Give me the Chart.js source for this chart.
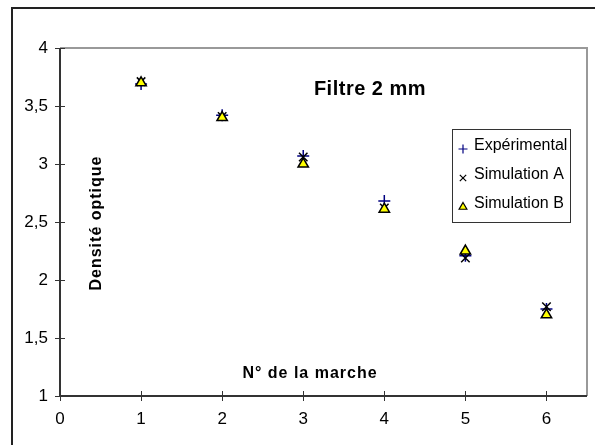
<!DOCTYPE html>
<html>
<head>
<meta charset="utf-8">
<script src="https://cdn.jsdelivr.net/npm/chart.js@4"></script>
<style>
  html, body { margin: 0; padding: 0; background: #fff; }
  #wrap { width: 595px; height: 445px; }
</style>
</head>
<body>
<div id="wrap"><canvas id="chart" width="595" height="445"></canvas></div>
<script>
const steps = [1, 2, 3, 4, 5, 6];
const experimental = [3.69, 3.42, 3.07, 2.68, 2.21, 1.75];
const simulationA = [3.71, 3.41, 3.06, 2.62, 2.19, 1.77];
const simulationB = [3.70, 3.40, 3.00, 2.61, 2.25, 1.70];
const xTicks = [0, 1, 2, 3, 4, 5, 6];
const yTicks = [1, 1.5, 2, 2.5, 3, 3.5, 4];
const seriesNames = ["Expérimental", "Simulation A", "Simulation B"];

const font = "Liberation Sans, Arial, sans-serif";

function toPoints(values) {
  return steps.map((s, i) => ({ x: s, y: values[i] }));
}

// frame, plot border, tick marks, titles and legend
const decor = {
  id: "decor",
  afterDraw(chart) {
    const ctx = chart.ctx;
    const area = chart.chartArea;
    const xs = chart.scales.x;
    const ys = chart.scales.y;
    ctx.save();

    // outer frame
    ctx.strokeStyle = "#222";
    ctx.lineWidth = 2;
    ctx.beginPath();
    ctx.moveTo(12, 460);
    ctx.lineTo(12, 8);
    ctx.lineTo(610, 8);
    ctx.stroke();

    // plot area top / right border
    ctx.strokeStyle = "#999";
    ctx.lineWidth = 2;
    ctx.beginPath();
    ctx.moveTo(area.left, area.top);
    ctx.lineTo(area.right, area.top);
    ctx.lineTo(area.right, area.bottom);
    ctx.stroke();

    // axes
    ctx.strokeStyle = "#333";
    ctx.beginPath();
    ctx.moveTo(area.left, area.top);
    ctx.lineTo(area.left, area.bottom);
    ctx.lineTo(area.right, area.bottom);
    ctx.stroke();

    // tick marks crossing the axes
    ctx.lineWidth = 1;
    xTicks.forEach(v => {
      const px = Math.round(xs.getPixelForValue(v)) + 0.5;
      ctx.beginPath();
      ctx.moveTo(px, area.bottom - 5);
      ctx.lineTo(px, area.bottom + 5);
      ctx.stroke();
    });
    yTicks.forEach(v => {
      const py = Math.round(ys.getPixelForValue(v)) + 0.5;
      ctx.beginPath();
      ctx.moveTo(area.left - 5, py);
      ctx.lineTo(area.left + 5, py);
      ctx.stroke();
    });

    // titles
    ctx.fillStyle = "#000";
    ctx.textAlign = "center";
    ctx.textBaseline = "middle";
    ctx.font = "bold 20px " + font;
    ctx.letterSpacing = "0.5px";
    ctx.fillText("Filtre 2 mm", 370, 89);
    ctx.font = "bold 16px " + font;
    ctx.letterSpacing = "1px";
    ctx.fillText("N° de la marche", 310, 374);
    ctx.save();
    ctx.translate(97, 223);
    ctx.rotate(-Math.PI / 2);
    ctx.fillText("Densité optique", 0, 0);
    ctx.restore();
    ctx.letterSpacing = "0px";

    // legend
    const box = { x: 452, y: 129, w: 118, h: 93 };
    ctx.fillStyle = "#fff";
    ctx.fillRect(box.x, box.y, box.w, box.h);
    ctx.strokeStyle = "#333";
    ctx.lineWidth = 1;
    ctx.strokeRect(box.x + 0.5, box.y + 0.5, box.w, box.h);
    ctx.font = "16px " + font;
    ctx.textAlign = "left";
    [0, 1, 2].forEach(i => {
      const ds = chart.data.datasets.find(d => d.label === seriesNames[i]);
      const cy = box.y + 17 + i * 29;
      ctx.fillStyle = ds.backgroundColor;
      ctx.strokeStyle = ds.borderColor;
      ctx.lineWidth = 1.2;
      Chart.helpers.drawPoint(ctx, {
        pointStyle: ds.pointStyle,
        radius: 4.5,
        borderWidth: 1.2,
        rotation: 0
      }, box.x + 11, cy + 3);
      ctx.fillStyle = "#000";
      ctx.fillText(ds.label, box.x + 22, cy);
    });

    ctx.restore();
  }
};

new Chart(document.getElementById("chart"), {
  type: "scatter",
  data: {
    datasets: [
      {
        label: seriesNames[0],
        data: toPoints(experimental),
        pointStyle: "cross",
        pointRadius: 6,
        borderColor: "#000080",
        backgroundColor: "#000080",
        borderWidth: 1.5,
        order: 2
      },
      {
        label: seriesNames[1],
        data: toPoints(simulationA),
        pointStyle: "crossRot",
        pointRadius: 6,
        borderColor: "#000",
        backgroundColor: "#000",
        borderWidth: 1.5,
        order: 1
      },
      {
        label: seriesNames[2],
        data: toPoints(simulationB),
        pointStyle: "triangle",
        pointRadius: 6,
        borderColor: "#000",
        backgroundColor: "#ffff00",
        borderWidth: 1.5,
        order: 0
      }
    ]
  },
  options: {
    responsive: false,
    animation: false,
    devicePixelRatio: 1,
    layout: { padding: { left: 0, top: 48, right: 8, bottom: 0 } },
    plugins: {
      legend: { display: false },
      tooltip: { enabled: false },
      title: { display: false }
    },
    scales: {
      x: {
        type: "linear",
        min: 0,
        max: 6.5,
        afterBuildTicks: s => { s.ticks = xTicks.map(v => ({ value: v })); },
        afterFit: s => { s.height = 49; },
        grid: { display: false, drawTicks: false },
        border: { display: false },
        ticks: {
          color: "#000",
          font: { family: font, size: 17 },
          padding: 13,
          maxRotation: 0
        }
      },
      y: {
        min: 1,
        max: 4,
        afterBuildTicks: s => { s.ticks = yTicks.map(v => ({ value: v })); },
        afterFit: s => { s.width = 60; },
        grid: { display: false, drawTicks: false },
        border: { display: false },
        ticks: {
          color: "#000",
          font: { family: font, size: 17 },
          padding: 12,
          callback: v => String(v).replace(".", ",")
        }
      }
    }
  },
  plugins: [decor]
});
</script>
</body>
</html>
